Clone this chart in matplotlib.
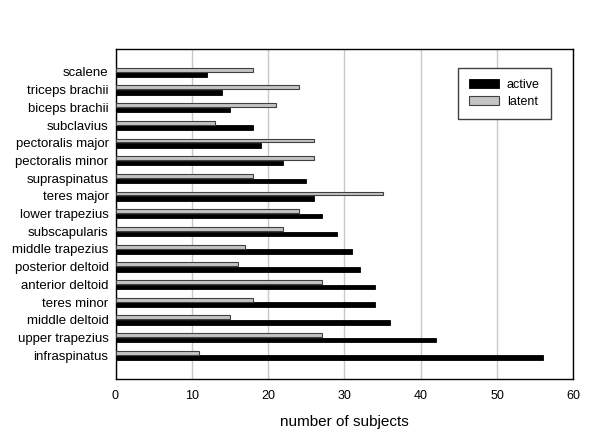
import numpy as np
import matplotlib
matplotlib.use('Agg')
import matplotlib.pyplot as plt

plt.rcParams['font.family'] = ['Liberation Sans', 'DejaVu Sans']

# muscles, listed bottom to top as drawn
muscles = ['infraspinatus', 'upper trapezius', 'middle deltoid', 'teres minor',
           'anterior deltoid', 'posterior deltoid', 'middle trapezius',
           'subscapularis', 'lower trapezius', 'teres major', 'supraspinatus',
           'pectoralis minor', 'pectoralis major', 'subclavius',
           'biceps brachii', 'triceps brachii', 'scalene']
active = [56, 42, 36, 34, 34, 32, 31, 29, 27, 26, 25, 22, 19, 18, 15, 14, 12]
latent = [11, 27, 15, 18, 27, 16, 17, 22, 24, 35, 18, 26, 26, 13, 21, 24, 18]
xticks = [0, 10, 20, 30, 40, 50, 60]

fig = plt.figure(figsize=(6.0, 4.33), dpi=100)
ax = fig.add_axes([0.1925, 0.1247, 0.7633, 0.761])

y = np.arange(len(muscles))
ax.barh(y - 0.15, active, height=0.26, color='black', edgecolor='black',
        linewidth=0.6, label='active', zorder=3)
ax.barh(y + 0.13, latent, height=0.22, color='#c4c4c4', edgecolor='#404040',
        linewidth=0.8, label='latent', zorder=3)

ax.set_xlim(0, 60)
ax.set_ylim(-1.35, len(muscles) + 0.27)
ax.set_xticks(xticks)
ax.set_yticks(y)
ax.set_yticklabels(muscles)
ax.tick_params(axis='both', length=0)
ax.tick_params(axis='x', pad=8, labelsize=9)
ax.tick_params(axis='y', pad=5, labelsize=9.5)
ax.xaxis.grid(True, color='#c8c8c8', linewidth=1.0, zorder=0)
ax.set_axisbelow(True)
for s in ax.spines.values():
    s.set_linewidth(1.0)
    s.set_color('black')

ax.set_xlabel('number of subjects', fontsize=11, labelpad=9)

handles, labels = ax.get_legend_handles_labels()
leg = ax.legend(handles, labels, loc='upper right',
                bbox_to_anchor=(0.951, 0.944), fontsize=9,
                fancybox=False, framealpha=1, edgecolor='#404040',
                handlelength=2.4, handleheight=0.7, borderpad=0.9,
                labelspacing=0.35, handletextpad=0.6, borderaxespad=0)
leg.get_frame().set_linewidth(1.0)

fig.savefig('out.png', dpi=100)
